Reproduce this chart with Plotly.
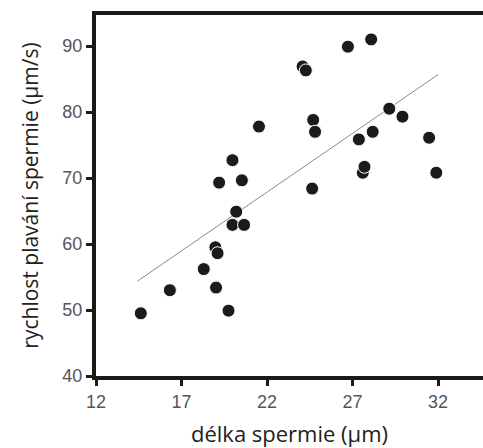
import numpy as np
import plotly.graph_objects as go

delka = [14.62, 16.32, 18.30, 19.02, 18.98, 19.11, 19.20, 19.75, 19.98, 19.98,
         20.20, 20.53, 20.66, 21.53, 24.08, 24.27, 24.70, 24.81, 24.64, 26.73,
         27.37, 27.60, 27.70, 28.09, 28.18, 29.15, 29.92, 31.48, 31.90]
rychlost = [49.5, 53.0, 56.2, 53.4, 59.5, 58.6, 69.3, 49.9, 72.7, 62.9,
            64.9, 69.65, 62.9, 77.8, 86.9, 86.3, 78.8, 77.0, 68.4, 89.9,
            75.85, 70.8, 71.7, 91.0, 77.0, 80.5, 79.3, 76.1, 70.8]
x_ticks = [12, 17, 22, 27, 32]
y_ticks = [40, 50, 60, 70, 80, 90]

slope, intercept = np.polyfit(delka, rychlost, 1)
fit_x = np.array([min(delka) - 0.2, max(delka) + 0.1])
fit_y = slope * fit_x + intercept

fig = go.Figure()
fig.add_trace(go.Scatter(x=fit_x, y=fit_y, mode="lines",
                         line=dict(color="#8a8a8a", width=1), hoverinfo="skip"))
fig.add_trace(go.Scatter(x=delka, y=rychlost, mode="markers",
                         marker=dict(size=13, color="#1b1b1b",
                                     line=dict(color="white", width=1))))

axis_font = dict(family="Liberation Sans, Arial, sans-serif", size=18, color="#555555")
xtitle_font = dict(family="Open Sans, sans-serif", size=22, color="#222222")
ytitle_font = dict(family="Open Sans, sans-serif", size=21, color="#222222")

fig.update_layout(
    width=483, height=448,
    margin=dict(l=96, r=0, t=15, b=72),
    paper_bgcolor="white", plot_bgcolor="white",
    showlegend=False,
    xaxis=dict(range=[12, 34.63], tickvals=x_ticks, ticktext=[str(v) for v in x_ticks],
               showgrid=False, zeroline=False, showline=True, linecolor="#1b1b1b",
               linewidth=4, mirror=True, ticks="outside", ticklen=6, tickwidth=3,
               tickcolor="#1b1b1b", tickfont=axis_font, automargin=False,
               title=dict(text="délka spermie (µm)", font=xtitle_font, standoff=17)),
    yaxis=dict(range=[40, 94.7], tickvals=y_ticks, ticktext=[str(v) for v in y_ticks],
               showgrid=False, zeroline=False, showline=True, linecolor="#1b1b1b",
               linewidth=4, ticks="outside", ticklen=6, tickwidth=3,
               tickcolor="#1b1b1b", tickfont=axis_font, automargin=False,
               title=dict(text="rychlost plavání spermie (µm/s)", font=ytitle_font, standoff=19)),
)

fig.write_html("out.html", config={"displayModeBar": False},
               post_script="document.body.style.margin='0';document.body.style.overflow='hidden';")
